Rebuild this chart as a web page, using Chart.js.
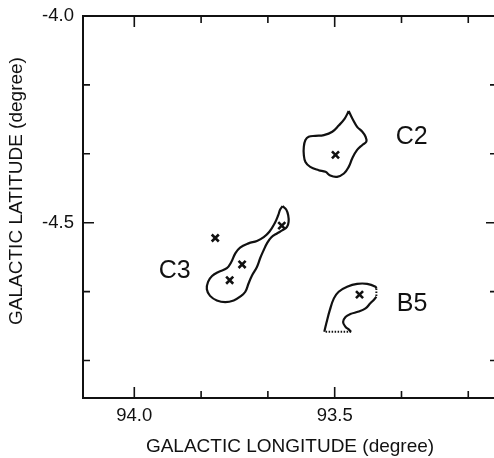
<!DOCTYPE html>
<html>
<head>
<meta charset="utf-8">
<script src="https://cdn.jsdelivr.net/npm/chart.js@4.4.1/dist/chart.umd.min.js"></script>
<style>
  html, body { margin: 0; padding: 0; background: #fff; overflow: hidden; }
  #clip { width: 494px; height: 458px; overflow: hidden; }
  #map { display: block; }
</style>
</head>
<body>
<div id="clip"><canvas id="map" width="500" height="458"></canvas></div>
<script>
// tick positions (degrees), labelled only at the major ones
const xTicks = [94.0, 93.8333, 93.6667, 93.5, 93.3333, 93.1667];
const xTickLabels = ['94.0', '', '', '93.5', '', ''];
const yTicks = [-4.0, -4.1667, -4.3333, -4.5, -4.6667, -4.8333];
const yTickLabels = ['-4.0', '', '', '-4.5', '', ''];

// contour C2 (closed)
const c2Lon = [93.465, 93.456, 93.444, 93.431, 93.423, 93.421, 93.431, 93.444, 93.456, 93.465, 93.477, 93.494, 93.511, 93.523, 93.540, 93.561, 93.573, 93.577, 93.577, 93.573, 93.565, 93.548, 93.527, 93.506, 93.490, 93.475, 93.465];
const c2Lat = [-4.230, -4.248, -4.268, -4.280, -4.292, -4.304, -4.312, -4.324, -4.344, -4.365, -4.381, -4.389, -4.386, -4.377, -4.373, -4.365, -4.353, -4.336, -4.316, -4.300, -4.292, -4.290, -4.288, -4.280, -4.265, -4.248, -4.230];

// contour C3 (closed)
const c3Lon = [93.630, 93.621, 93.616, 93.615, 93.619, 93.630, 93.644, 93.658, 93.669, 93.677, 93.686, 93.694, 93.706, 93.715, 93.723, 93.736, 93.752, 93.773, 93.794, 93.811, 93.819, 93.816, 93.806, 93.790, 93.769, 93.758, 93.748, 93.736, 93.715, 93.694, 93.677, 93.663, 93.650, 93.641, 93.636, 93.630];
const c3Lat = [-4.460, -4.468, -4.482, -4.498, -4.510, -4.518, -4.526, -4.535, -4.550, -4.566, -4.586, -4.607, -4.627, -4.647, -4.667, -4.679, -4.688, -4.692, -4.688, -4.677, -4.661, -4.643, -4.629, -4.619, -4.610, -4.595, -4.574, -4.560, -4.550, -4.544, -4.535, -4.522, -4.502, -4.482, -4.468, -4.460];

// contour B5: solid outer arc, dotted right edge, solid inner arc, dotted bottom
const b5OuterLon = [93.526, 93.521, 93.512, 93.502, 93.490, 93.469, 93.444, 93.419, 93.398, 93.396];
const b5OuterLat = [-4.764, -4.744, -4.711, -4.683, -4.667, -4.655, -4.648, -4.648, -4.655, -4.659];
const b5RightLon = [93.396, 93.396];
const b5RightLat = [-4.659, -4.679];
const b5InnerLon = [93.396, 93.401, 93.411, 93.423, 93.440, 93.461, 93.473, 93.479, 93.473, 93.465, 93.459];
const b5InnerLat = [-4.679, -4.685, -4.695, -4.707, -4.715, -4.721, -4.728, -4.740, -4.752, -4.758, -4.764];
const b5BottomLon = [93.459, 93.526];
const b5BottomLat = [-4.764, -4.764];

// source positions (crosses)
const srcLon = [93.498, 93.798, 93.731, 93.762, 93.632, 93.438];
const srcLat = [-4.336, -4.537, -4.601, -4.639, -4.507, -4.674];

// cloud names
const clusterNames = ['C2', 'C3', 'B5'];
const clusterLon = [93.308, 93.899, 93.307];
const clusterLat = [-4.293, -4.617, -4.697];

const FONT = "'Liberation Sans', Arial, Helvetica, sans-serif";

function pts(lon, lat) {
  return lon.map((x, i) => ({ x, y: lat[i] }));
}

function contour(lon, lat, dotted) {
  return {
    data: pts(lon, lat),
    showLine: true,
    borderColor: '#111',
    borderWidth: dotted ? 2 : 2.2,
    borderDash: dotted ? [1.5, 1.5] : [],
    tension: dotted ? 0 : 0.4,
    pointRadius: 0,
    fill: false
  };
}

// frame, inward ticks on all four sides, y title, cloud names
const framePlugin = {
  id: 'frame',
  afterDraw(chart) {
    const { ctx, chartArea: a, scales } = chart;
    ctx.save();
    ctx.strokeStyle = '#111';
    ctx.lineWidth = 2;
    ctx.strokeRect(a.left, a.top, a.right - a.left, a.bottom - a.top);

    ctx.lineWidth = 1.6;
    ctx.beginPath();
    xTicks.forEach((v, i) => {
      const px = scales.x.getPixelForValue(v);
      const len = xTickLabels[i] ? 11 : 7;
      ctx.moveTo(px, a.bottom); ctx.lineTo(px, a.bottom - len);
      ctx.moveTo(px, a.top); ctx.lineTo(px, a.top + len);
    });
    yTicks.forEach((v, i) => {
      const py = scales.y.getPixelForValue(v);
      const len = yTickLabels[i] ? 11 : 7;
      ctx.moveTo(a.left, py); ctx.lineTo(a.left + len, py);
      ctx.moveTo(a.right, py); ctx.lineTo(a.right - len, py);
    });
    ctx.stroke();

    ctx.fillStyle = '#111';
    ctx.textAlign = 'center';
    ctx.textBaseline = 'middle';
    ctx.font = '25px ' + FONT;
    clusterNames.forEach((name, i) => {
      ctx.fillText(name, scales.x.getPixelForValue(clusterLon[i]), scales.y.getPixelForValue(clusterLat[i]));
    });

    ctx.font = '19px ' + FONT;
    ctx.translate(16.5, 191);
    ctx.rotate(-Math.PI / 2);
    ctx.fillText('GALACTIC LATITUDE (degree)', 0, 0);
    ctx.restore();
  }
};

new Chart(document.getElementById('map'), {
  type: 'scatter',
  data: {
    datasets: [
      contour(c2Lon, c2Lat, false),
      contour(c3Lon, c3Lat, false),
      contour(b5OuterLon, b5OuterLat, false),
      contour(b5RightLon, b5RightLat, true),
      contour(b5InnerLon, b5InnerLat, false),
      contour(b5BottomLon, b5BottomLat, true),
      {
        data: pts(srcLon, srcLat),
        pointStyle: 'crossRot',
        pointRadius: 5,
        pointBorderWidth: 2.6,
        borderColor: '#111',
        backgroundColor: '#111',
        showLine: false
      }
    ]
  },
  options: {
    responsive: false,
    animation: false,
    // right edge of the frame sits just past the visible window, as in the cropped scan
    layout: { autoPadding: false, padding: { top: 16, right: 3, bottom: 0, left: 0 } },
    plugins: {
      legend: { display: false },
      tooltip: { enabled: false }
    },
    scales: {
      x: {
        type: 'linear',
        reverse: true,
        min: 93.095,
        max: 94.128,
        afterBuildTicks: s => { s.ticks = xTicks.map(v => ({ value: v })); },
        afterFit: s => { s.height = 60; s.paddingLeft = 0; s.paddingRight = 0; },
        grid: { display: false, drawTicks: false },
        border: { display: false },
        ticks: {
          autoSkip: false,
          maxRotation: 0,
          padding: 7,
          color: '#111',
          font: { family: FONT, size: 18.5 },
          callback: (v, i) => xTickLabels[i]
        },
        title: {
          display: true,
          text: 'GALACTIC LONGITUDE (degree)',
          color: '#111',
          font: { family: FONT, size: 19 },
          padding: { top: 0, bottom: 0 }
        }
      },
      y: {
        type: 'linear',
        min: -4.924,
        max: -4.0,
        afterBuildTicks: s => { s.ticks = yTicks.map(v => ({ value: v })); },
        afterFit: s => { s.width = 83; s.paddingTop = 0; s.paddingBottom = 0; },
        grid: { display: false, drawTicks: false },
        border: { display: false },
        ticks: {
          autoSkip: false,
          padding: 9,
          color: '#111',
          font: { family: FONT, size: 18.5 },
          callback: (v, i) => yTickLabels[i]
        }
      }
    }
  },
  plugins: [framePlugin]
});
</script>
</body>
</html>
